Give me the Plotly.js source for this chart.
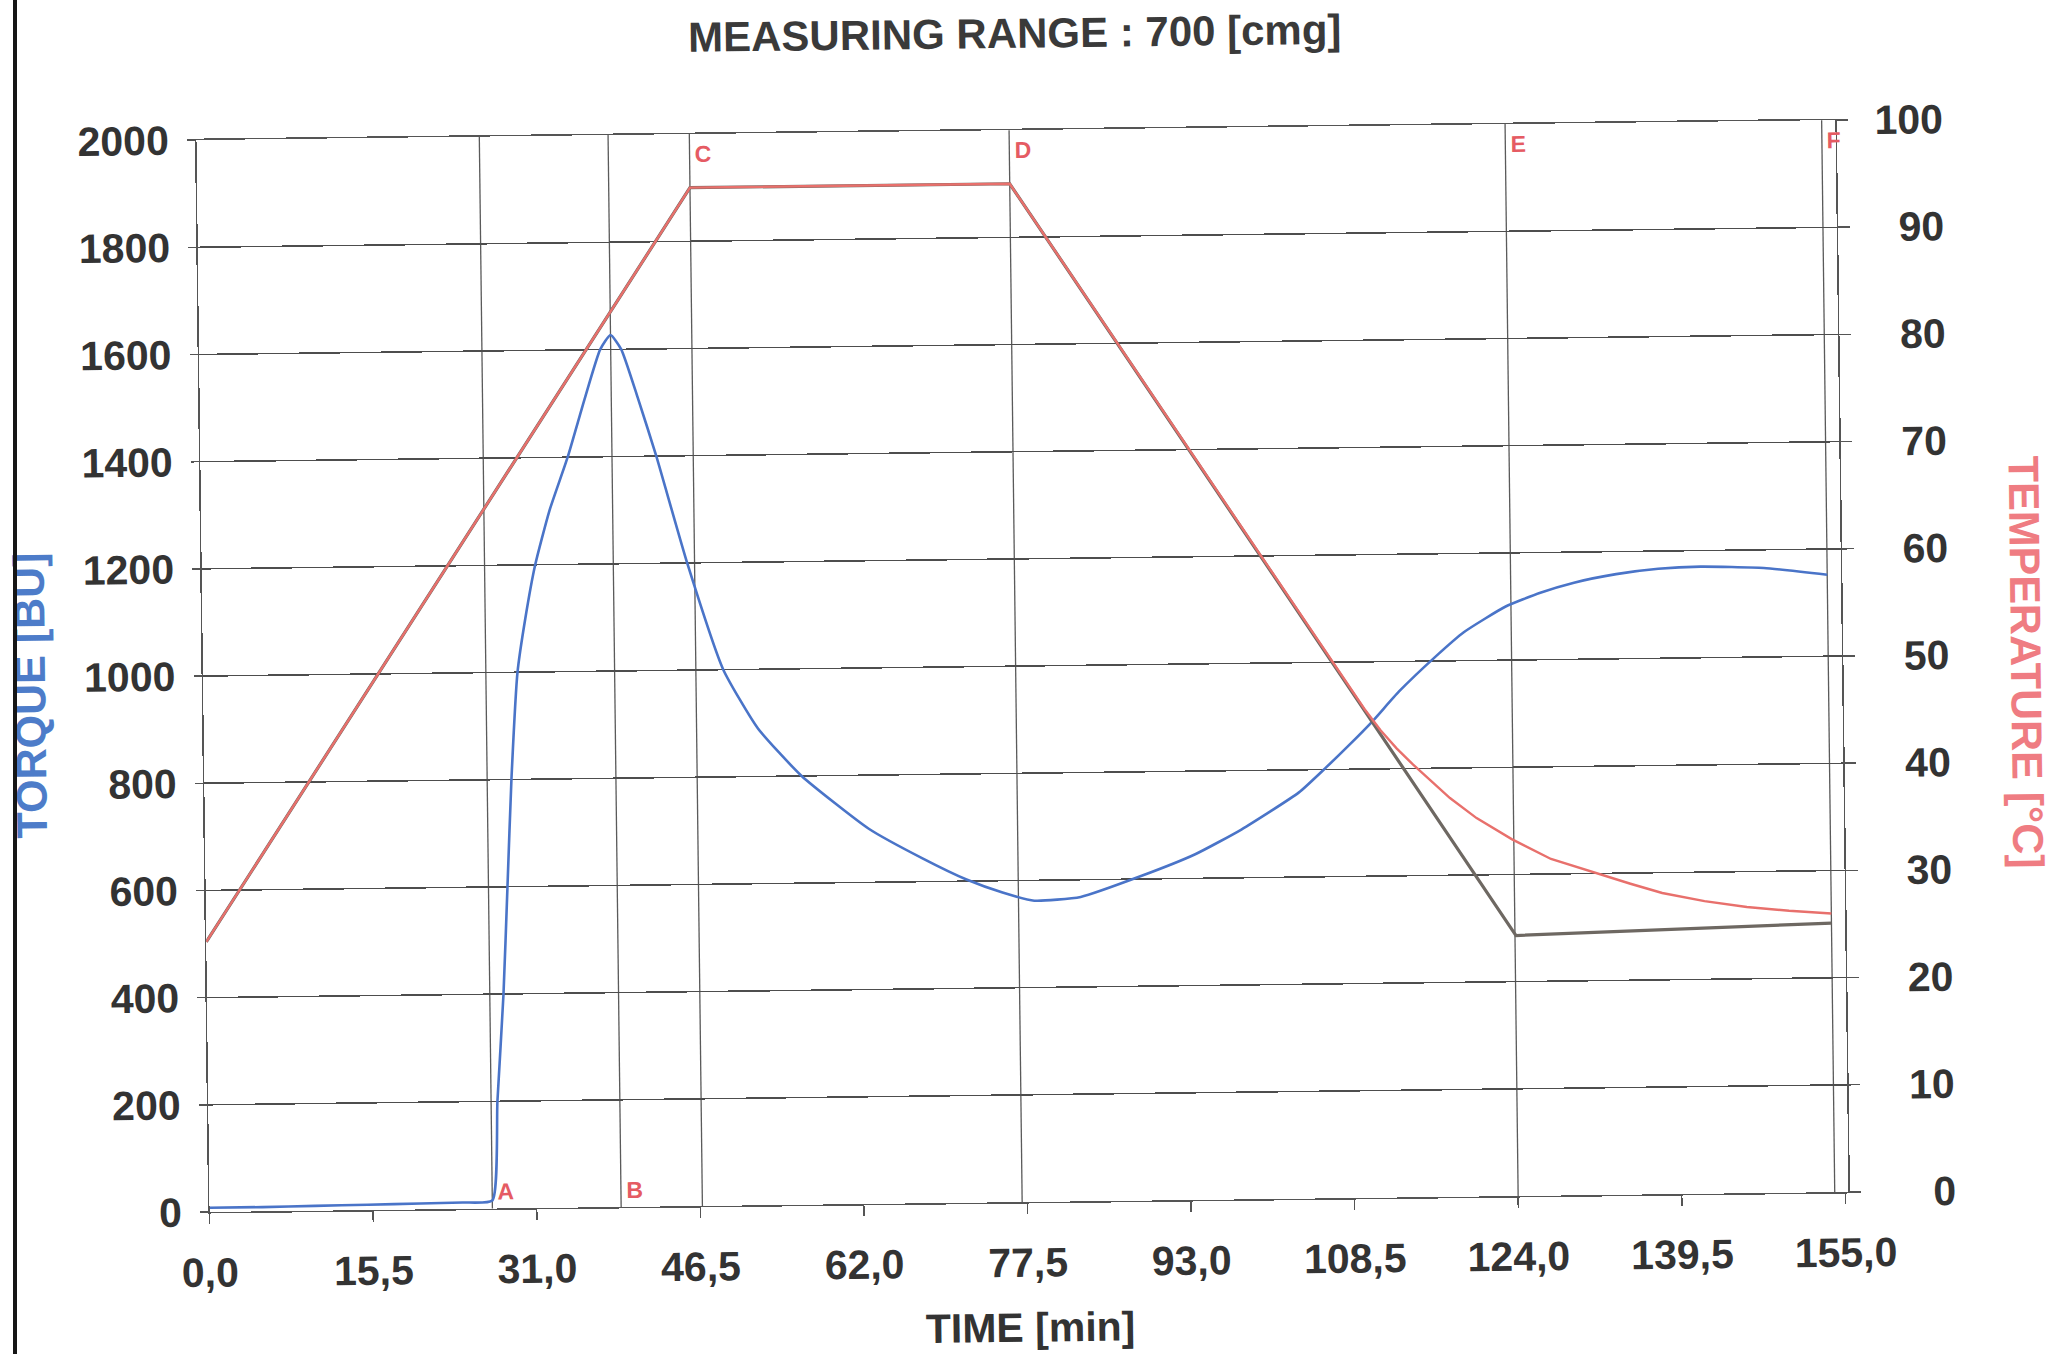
<!DOCTYPE html>
<html>
<head>
<meta charset="utf-8">
<script src="https://cdn.plot.ly/plotly-3.0.1.min.js"></script>
<style>
  html, body { margin:0; padding:0; background:#ffffff; overflow:hidden; }
  #chart { position:absolute; left:0; top:0; width:2067px; height:1354px;
           transform: rotate(-0.7deg); transform-origin: 1026px 668px; }
  #edge { position:absolute; left:13px; top:0; width:3.5px; height:1354px; background:#161616; }
</style>
</head>
<body>
<div id="chart"></div>
<div id="edge"></div>
<script>
// ---- data ----
const torqueTime = [0, 5, 10, 15, 20, 24, 26.8, 27.4, 28.1, 28.6, 29.1, 29.8, 30.6, 31.6, 33.0, 34.8, 36.5, 38.0, 39.0, 40.0, 41.5, 43.2, 46.0, 49.3, 52.5, 56.6, 62.9, 68.0, 72.1, 75.5, 78.5, 82.9, 88.7, 93.8, 98.2, 103.7, 106.3, 108.5, 110.7, 113.3, 116.9, 119.5, 123.5, 126.8, 130.0, 134.0, 138.0, 142.0, 148.0, 154.0];
const torqueBU   = [8, 8, 9, 10, 11, 12, 15, 200, 400, 600, 800, 1000, 1100, 1200, 1300, 1400, 1510, 1600, 1627, 1600, 1510, 1400, 1200, 1000, 890, 800, 700, 643, 603, 578, 562, 568, 606, 645, 690, 758, 804, 845, 888, 944, 1010, 1053, 1100, 1125, 1143, 1158, 1167, 1170, 1166, 1152];

const tempTime = [0, 46.7, 77.0, 108.5, 110.0, 111.5, 113.0, 114.5, 116.0, 118.0, 120.5, 123.8, 127.5, 131.8, 135.0, 138.0, 142.0, 146.0, 150.0, 154.0];
const tempC    = [25.2, 95.0, 95.0, 47.75, 45.6, 43.6, 41.9, 40.4, 39.0, 37.2, 35.3, 33.3, 31.4, 30.0, 29.0, 28.1, 27.3, 26.7, 26.3, 26.0];

const setTime = [0, 46.7, 77.0, 124.1, 154.0];
const setC    = [25.2, 95.0, 95.0, 24.3, 25.1];

const eventTimes  = [26.8, 39.0, 46.7, 77.0, 124.0, 154.0];
const eventLabels = ['A', 'B', 'C', 'D', 'E', 'F'];
const eventSide   = ['bottom', 'bottom', 'top', 'top', 'top', 'top'];

const timeTicks = [0, 15.5, 31, 46.5, 62, 77.5, 93, 108.5, 124, 139.5, 155];
const tempTicks = [0, 10, 20, 30, 40, 50, 60, 70, 80, 90, 100];

// ---- chart ----
const FONT = 'Liberation Sans, Arial, Helvetica, sans-serif';
const pad = v => { const s = String(v); return '\u00a0\u00a0'.repeat(3 - s.length) + s; };

const traces = [
  { x: setTime, y: setC, yaxis: 'y2', mode: 'lines', name: 'Set temperature',
    line: { color: '#6e6862', width: 3.2 } },
  { x: tempTime, y: tempC, yaxis: 'y2', mode: 'lines', name: 'Temperature',
    line: { color: '#e8706c', width: 2.4 } },
  { x: torqueTime, y: torqueBU, yaxis: 'y', mode: 'lines', name: 'Torque',
    line: { color: '#4a74c8', width: 2.6, shape: 'spline', smoothing: 0.5 } }
];

const shapes = eventTimes.map(t => ({
  type: 'line', xref: 'x', yref: 'paper', x0: t, x1: t, y0: 0, y1: 1,
  line: { color: '#5a5a5a', width: 1.3 }, layer: 'below'
}));

const annotations = eventTimes.map((t, i) => ({
  x: t, xref: 'x', xanchor: 'left', xshift: 3,
  y: eventSide[i] === 'top' ? 1 : 0, yref: 'paper',
  yanchor: eventSide[i] === 'top' ? 'top' : 'bottom',
  yshift: eventSide[i] === 'top' ? -5 : 2,
  text: eventLabels[i], showarrow: false,
  font: { family: FONT, size: 23, color: '#e55b63' }
}));

annotations.push({
  text: 'TORQUE [BU]', xref: 'paper', yref: 'paper', x: -0.1055, y: 0.484,
  xanchor: 'center', yanchor: 'middle', textangle: -90, showarrow: false,
  font: { family: FONT, size: 43, weight: 700, color: '#4d7cc9' }
});
annotations.push({
  text: 'TEMPERATURE [°C]', xref: 'paper', yref: 'paper', x: 1.1123, y: 0.4925,
  xanchor: 'center', yanchor: 'middle', textangle: 90, showarrow: false,
  font: { family: FONT, size: 43, weight: 700, color: '#ef7c82' }
});

const layout = {
  width: 2067, height: 1354,
  margin: { l: 203, r: 225, t: 130, b: 152 },
  paper_bgcolor: '#ffffff', plot_bgcolor: '#ffffff',
  separators: ',.',
  showlegend: false,
  font: { family: FONT, size: 41, weight: 700, color: '#333333' },
  title: { text: 'MEASURING RANGE : 700 [cmg]', x: 0.5, xref: 'paper',
           y: 1 - 33 / 1354, yref: 'container', yanchor: 'middle',
           font: { family: FONT, size: 42, weight: 700, color: '#3a3a3a' } },
  xaxis: {
    range: [0, 155.3], tickvals: timeTicks, tickformat: '.1f',
    ticks: 'outside', ticklen: 10, tickwidth: 1.5, tickcolor: '#555',
    showgrid: false, zeroline: false, showline: true, mirror: true,
    linecolor: '#555', linewidth: 1.5, ticklabelstandoff: 14,
    tickfont: { family: FONT, size: 41, weight: 700, color: '#333' },
    title: { text: 'TIME [min]', standoff: 28,
             font: { family: FONT, size: 41, weight: 700, color: '#333' } }
  },
  yaxis: {
    range: [0, 2000], dtick: 200, tickformat: 'd',
    ticks: 'outside', ticklen: 8, tickwidth: 1.5, tickcolor: '#555',
    showgrid: true, gridcolor: '#4d4d4d', gridwidth: 1.5,
    zeroline: false, showline: true, mirror: true, linecolor: '#555', linewidth: 1.5,
    ticklabelstandoff: 10,
    tickfont: { family: FONT, size: 41, weight: 700, color: '#333' }
  },
  yaxis2: {
    overlaying: 'y', side: 'right', range: [0, 100],
    tickvals: tempTicks, ticktext: tempTicks.map(pad),
    ticks: 'outside', ticklen: 12, tickwidth: 1.5, tickcolor: '#555',
    showgrid: false, zeroline: false, showline: false,
    ticklabelstandoff: 18,
    tickfont: { family: FONT, size: 41, weight: 700, color: '#333' }
  },
  shapes: shapes,
  annotations: annotations
};

Plotly.newPlot('chart', traces, layout, { staticPlot: true, displayModeBar: false });
</script>
</body>
</html>
